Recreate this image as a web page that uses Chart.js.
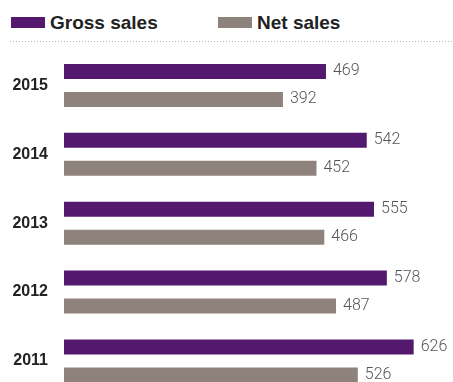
<!DOCTYPE html>
<html lang="en">
<head>
  <meta charset="UTF-8" />
  <title>Gross and net sales</title>
  <script src="https://cdn.jsdelivr.net/npm/chart.js"></script>
  <style>
    html, body { margin: 0; padding: 0; background: #fff; overflow: hidden; }
    body { width: 453px; height: 382px; position: relative; font-family: "Liberation Sans", Arial, sans-serif; }
    .legend { position: absolute; top: 0; left: 0; width: 453px; height: 40px; }
    .legend .sw { position: absolute; top: 17px; width: 34px; height: 11px; }
    .legend .txt { position: absolute; top: 11px; font-size: 19px; font-weight: bold; color: #222; line-height: 24px; }
    .dots {
      position: absolute; top: 41px; left: 10px; right: 0; height: 1px;
      background-image: linear-gradient(to right, #b5b5b5 1px, transparent 1px);
      background-size: 3px 1px;
    }
    #salesChart { position: absolute; left: 0; top: 0; }
  </style>
</head>
<body>
  <div class="legend" id="legend"></div>
  <div class="dots"></div>
  <!-- taller than the window on purpose: the last bar sits on the bottom edge -->
  <canvas id="salesChart" width="455" height="421"></canvas>

  <script>
    const years = ['2015', '2014', '2013', '2012', '2011'];
    const grossSales = [469, 542, 555, 578, 626];
    const netSales = [392, 452, 466, 487, 526];
    const seriesNames = ['Gross sales', 'Net sales'];
    const seriesColors = ['#52196f', '#8e837c'];

    // legend drawn as html, from the series arrays
    const legendPos = [{ sw: 11, txt: 50 }, { sw: 218, txt: 257 }];
    const legend = document.getElementById('legend');
    seriesNames.forEach((name, i) => {
      const sw = document.createElement('div');
      sw.className = 'sw';
      sw.style.left = legendPos[i].sw + 'px';
      sw.style.background = seriesColors[i];
      const txt = document.createElement('div');
      txt.className = 'txt';
      txt.style.left = legendPos[i].txt + 'px';
      txt.textContent = name;
      legend.appendChild(sw);
      legend.appendChild(txt);
    });

    const valueLabels = {
      id: 'valueLabels',
      afterDatasetsDraw(chart) {
        const ctx = chart.ctx;
        ctx.save();
        ctx.font = '300 16px Roboto, "Liberation Sans", sans-serif';
        ctx.fillStyle = '#555';
        ctx.textBaseline = 'middle';
        ctx.textAlign = 'left';
        chart.data.datasets.forEach((ds, i) => {
          chart.getDatasetMeta(i).data.forEach((bar, j) => {
            ctx.fillText(ds.data[j], bar.x + 7, bar.y);
          });
        });
        ctx.restore();
      }
    };

    new Chart(document.getElementById('salesChart'), {
      type: 'bar',
      data: {
        labels: years,
        datasets: [
          { label: seriesNames[0], data: grossSales, backgroundColor: seriesColors[0] },
          { label: seriesNames[1], data: netSales, backgroundColor: seriesColors[1] }
        ]
      },
      options: {
        indexAxis: 'y',
        responsive: false,
        animation: false,
        layout: { padding: { top: 51, left: 0, right: 0, bottom: 0 } },
        datasets: { bar: { barPercentage: 0.536, categoryPercentage: 0.8145 } },
        plugins: { legend: { display: false }, tooltip: { enabled: false } },
        scales: {
          x: { display: false, min: 0, max: 700 },
          y: {
            afterFit: s => { s.width = 64; },
            grid: { display: false, drawTicks: false },
            border: { display: false },
            ticks: {
              padding: 16,
              color: '#222',
              font: { family: '"Liberation Sans", Arial, sans-serif', size: 16, weight: 'bold' }
            }
          }
        }
      },
      plugins: [valueLabels]
    });
  </script>
</body>
</html>
